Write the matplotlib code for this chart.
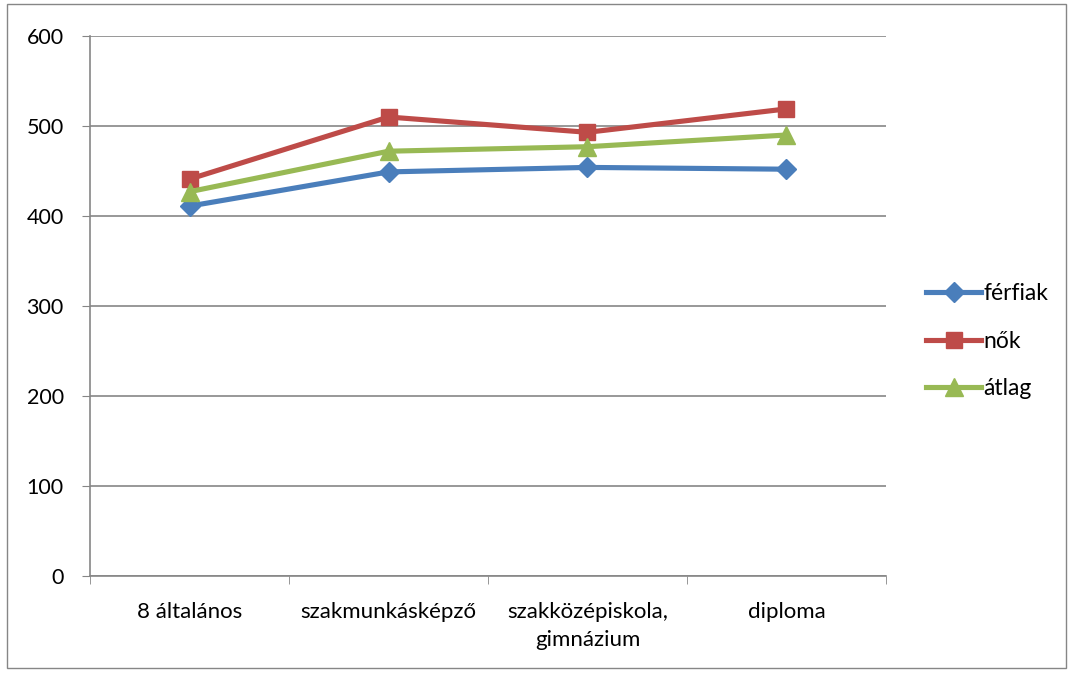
import matplotlib.pyplot as plt
from matplotlib.patches import Rectangle

# data
categories = ["8 általános", "szakmunkásképző", "szakközépiskola,\ngimnázium", "diploma"]
ferfiak = [411, 449, 454, 452]
nok = [441, 510, 493, 519]
atlag = [427, 472, 477, 490]
yticks = [0, 100, 200, 300, 400, 500, 600]

plt.rcParams['font.family'] = ['Lato', 'DejaVu Sans']

fig = plt.figure(figsize=(10.73, 6.73), dpi=100)
ax = fig.add_axes([0.0839, 0.1441, 0.7418, 0.8024])

x = list(range(len(categories)))
ax.plot(x, ferfiak, color='#4A7EBB', lw=3.7, marker='D', ms=10, label='férfiak')
ax.plot(x, nok, color='#BE4B48', lw=3.7, marker='s', ms=12, label='nők')
ax.plot(x, atlag, color='#98B954', lw=3.7, marker='^', ms=13, label='átlag')

ax.set_xlim(-0.5, len(categories) - 0.5)
ax.set_ylim(0, 600)
ax.set_yticks(yticks)
ax.set_xticks(x)
ax.set_xticklabels(categories, fontsize=16, linespacing=1.45)
ax.set_xticks([i - 0.5 for i in range(len(categories) + 1)], minor=True)
ax.tick_params(axis='x', which='major', length=0, pad=19)
ax.tick_params(axis='x', which='minor', length=6, color='#868686', direction='out')
ax.tick_params(axis='y', length=6, color='#868686', direction='out', labelsize=15.5, pad=13)

ax.grid(axis='y', color='#868686', lw=1.2)
ax.set_axisbelow(True)
for s in ['top', 'right']:
    ax.spines[s].set_visible(False)
for s in ['left', 'bottom']:
    ax.spines[s].set_color('#868686')
    ax.spines[s].set_linewidth(1.2)

ax.legend(loc='center left', bbox_to_anchor=(0.844, 0.493), bbox_transform=fig.transFigure,
          frameon=False, fontsize=16.5, handlelength=2.4, handletextpad=0.1, labelspacing=1.15)

# outer frame
fig.patches.append(Rectangle((0.0065, 0.007), 0.987, 0.987, transform=fig.transFigure,
                             fill=False, edgecolor='#868686', lw=1.0))

fig.savefig("out.png", dpi=100)
